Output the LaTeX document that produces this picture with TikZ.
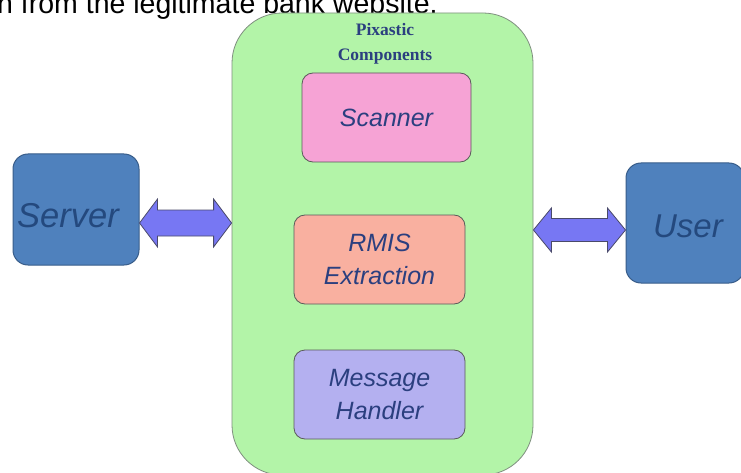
\documentclass[tikz,border=0pt]{standalone}
\usepackage{fontspec}
\setmainfont{Liberation Serif}
\setsansfont{Liberation Sans}
\usetikzlibrary{calc}
\definecolor{greenfill}{HTML}{B3F4A8}
\definecolor{greenline}{HTML}{7F8F7F}
\definecolor{bluefill}{HTML}{4F81BD}
\definecolor{blueline}{HTML}{385D8A}
\definecolor{bluetext}{HTML}{24497E}
\definecolor{pinkfill}{HTML}{F6A3D5}
\definecolor{salmonfill}{HTML}{F9B0A0}
\definecolor{lavfill}{HTML}{B4B0F0}
\definecolor{navytext}{HTML}{2B3F7F}
\definecolor{arrowfill}{HTML}{7777F3}
\definecolor{arrowline}{HTML}{4A4A6A}
\definecolor{boxline}{HTML}{5A5A5A}
\tikzset{
  endbox/.style={draw=blueline, line width=1pt, fill=bluefill, rounded corners=15pt,
    text=bluetext, font=\sffamily\itshape\fontsize{33}{36}\selectfont, inner sep=0pt},
  compbox/.style={draw=boxline, line width=0.8pt, rounded corners=11pt, inner sep=0pt,
    minimum width=171pt, minimum height=89pt, align=center, text=navytext,
    font=\sffamily\itshape\fontsize{25}{33}\selectfont},
  dblarrow/.style={draw=arrowline, line width=0.8pt, fill=arrowfill, line join=miter},
}
\begin{document}
\begin{tikzpicture}[x=1pt,y=1pt]
\useasboundingbox (0,0) rectangle (741,-473);
\clip (0,0) rectangle (741,-473);
\fill[white] (0,0) rectangle (741,-473);
% top text fragment
\node[anchor=base west, inner sep=0pt, font=\sffamily\fontsize{28.5}{30}\selectfont] (toptext) at (-3,-14) {n from the legitimate bank website.};
% container
\node[draw=greenline, line width=0.8pt, fill=greenfill, rounded corners=50pt,
  minimum width=301pt, minimum height=462pt, inner sep=0pt] (comp) at (382.5,-244) {};
\node[align=center, text=navytext, inner sep=0pt, anchor=base, font=\rmfamily\bfseries\fontsize{17.5}{25}\selectfont] (title) at (385,-61) {Pixastic\\Components};
% inner components
\node[compbox, fill=pinkfill, minimum width=169pt] (scanner) at (386.5,-117.5) {Scanner};
\node[compbox, fill=salmonfill] (rmis) at (379.5,-259.5) {RMIS\\Extraction};
\node[compbox, fill=lavfill] (msg) at (379.5,-394.5) {Message\\Handler};
% end boxes
\node[endbox, minimum width=126pt, minimum height=111pt] (server) at (76,-209.5) {};
\node[text=bluetext, font=\sffamily\itshape\fontsize{34.5}{36}\selectfont, anchor=base, inner sep=0pt] (serverlbl) at (68,-227) {Server};
\node[endbox, minimum width=118pt, minimum height=120pt] (user) at (685,-223) {};
\node[text=bluetext, font=\sffamily\itshape\fontsize{33}{36}\selectfont, anchor=base, inner sep=0pt] (userlbl) at (688,-237) {User};
% double arrows
\draw[dblarrow] let \p1=(server.east), \p2=(comp.west) in
  (\x1,-223pt) -- (\x1+18pt,-199pt) -- (\x1+18pt,-210pt) -- (\x2-18pt,-210pt) -- (\x2-18pt,-199pt)
  -- (\x2,-223pt) -- (\x2-18pt,-247pt) -- (\x2-18pt,-236pt) -- (\x1+18pt,-236pt) -- (\x1+18pt,-247pt) -- cycle;
\draw[dblarrow] let \p1=(comp.east), \p2=(user.west) in
  (\x1,-230pt) -- (\x1+18pt,-208pt) -- (\x1+18pt,-218.5pt) -- (\x2-18pt,-218.5pt) -- (\x2-18pt,-208pt)
  -- (\x2,-230pt) -- (\x2-18pt,-252pt) -- (\x2-18pt,-241.5pt) -- (\x1+18pt,-241.5pt) -- (\x1+18pt,-252pt) -- cycle;
\end{tikzpicture}
\end{document}
